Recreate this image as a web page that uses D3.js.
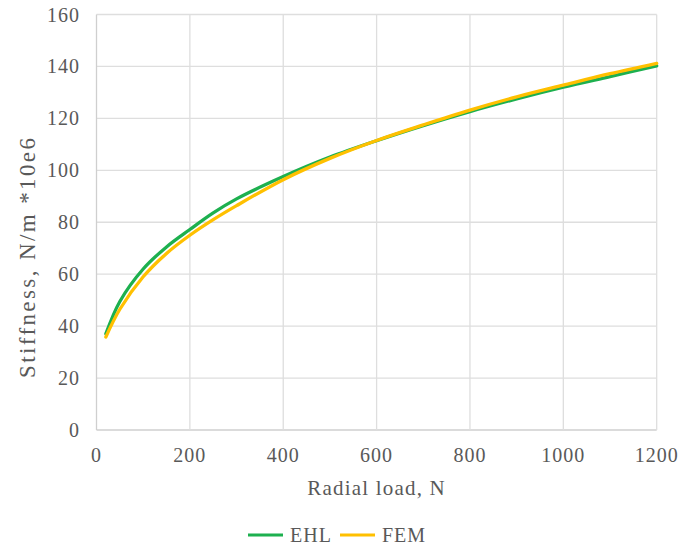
<!DOCTYPE html>
<html><head><meta charset="utf-8">
<script src="https://cdn.jsdelivr.net/npm/d3@7"></script>
<style>body{margin:0;background:#fff}svg{display:block}</style>
</head><body>
<svg id="c" width="694" height="549"></svg>
<script>
const loads = [20,50,100,150,200,250,300,400,500,600,700,800,900,1000,1100,1200];
const ehl   = [37,49.5,62,70.5,77.2,83.6,89,97.6,105.1,111.4,117.2,122.6,127.5,132,136.1,140.2];
const fem   = [35.8,46.5,59,68,75,81,86.4,96.4,104.6,111.5,117.5,123.2,128.3,132.8,137.2,141.2];
const xTicks = [0,200,400,600,800,1000,1200];
const yTicks = [0,20,40,60,80,100,120,140,160];
const seriesNames = ["EHL","FEM"];
const seriesColors = ["#1DB04F","#FFC000"];

const svg = d3.select("#c");
const m = {l:96.5, r:656.7, t:14.5, b:430};
const x = d3.scaleLinear().domain([0,1200]).range([m.l,m.r]);
const y = d3.scaleLinear().domain([0,160]).range([m.b,m.t]);
const font = "'Liberation Serif','Times New Roman',serif";
const txt = "#595959";

// grid
svg.append("g").selectAll("line").data(yTicks).join("line")
  .attr("x1",m.l).attr("x2",m.r).attr("y1",d=>y(d)).attr("y2",d=>y(d))
  .attr("stroke",d=>d===0?"#cfcfcf":"#dedede").attr("stroke-width",1.3);
svg.append("g").selectAll("line").data(xTicks).join("line")
  .attr("y1",m.t).attr("y2",m.b).attr("x1",d=>x(d)).attr("x2",d=>x(d))
  .attr("stroke",d=>d===0?"#cfcfcf":"#dedede").attr("stroke-width",1.3);

// tick labels
svg.append("g").selectAll("text").data(yTicks).join("text")
  .attr("x",80).attr("y",d=>y(d)).attr("dy","0.35em").attr("text-anchor","end")
  .attr("font-family",font).attr("font-size",20).attr("letter-spacing",1).attr("fill",txt).text(d=>d);
svg.append("g").selectAll("text").data(xTicks).join("text")
  .attr("x",d=>x(d)).attr("y",462).attr("text-anchor","middle")
  .attr("font-family",font).attr("font-size",20).attr("letter-spacing",1).attr("fill",txt).text(d=>d);

// axis titles
svg.append("text").attr("x",(m.l+m.r)/2).attr("y",495).attr("text-anchor","middle")
  .attr("font-family",font).attr("font-size",21).attr("letter-spacing",1.2).attr("fill",txt).text("Radial load, N");
svg.append("text").attr("transform",`translate(35,258) rotate(-90)`).attr("text-anchor","middle")
  .attr("font-family",font).attr("font-size",23).attr("textLength",240).attr("lengthAdjust","spacing")
  .attr("fill",txt).text("Stiffness, N/m *10e6");

// lines
const line = d3.line().x(d=>x(d[0])).y(d=>y(d[1])).curve(d3.curveCatmullRom.alpha(0.5));
[ehl,fem].forEach((vals,i)=>{
  svg.append("path").datum(loads.map((l,j)=>[l,vals[j]]))
    .attr("d",line).attr("fill","none").attr("stroke",seriesColors[i])
    .attr("stroke-width",3.3).attr("stroke-linecap","round");
});

// legend
const lg = svg.append("g");
const lx = [248,340];
seriesNames.forEach((n,i)=>{
  lg.append("line").attr("x1",lx[i]).attr("x2",lx[i]+35).attr("y1",535).attr("y2",535)
    .attr("stroke",seriesColors[i]).attr("stroke-width",3.2);
  lg.append("text").attr("x",lx[i]+42).attr("y",535).attr("dy","0.35em")
    .attr("font-family",font).attr("font-size",20).attr("letter-spacing",1).attr("fill",txt).text(n);
});
</script>
</body></html>
